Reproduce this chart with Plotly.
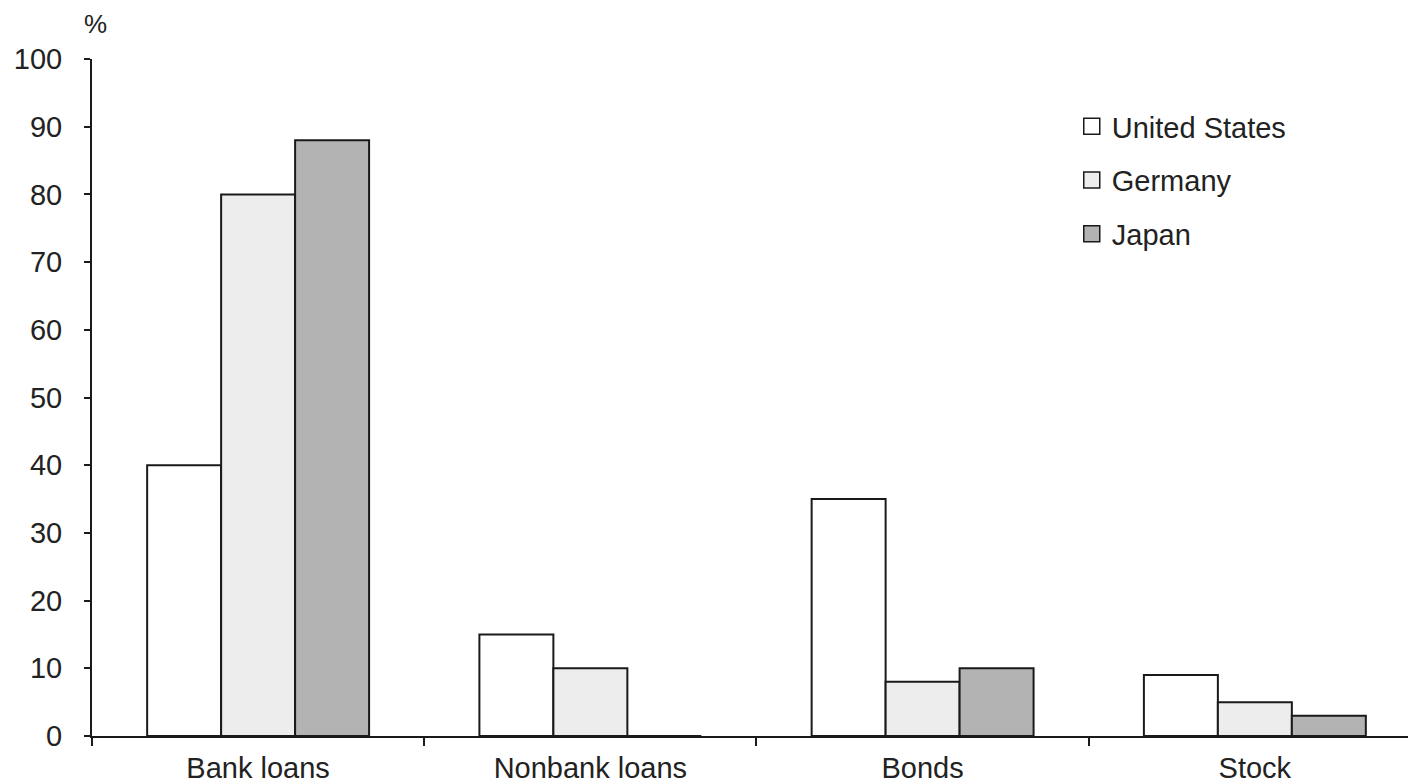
import plotly.graph_objects as go

categories = ["Bank loans", "Nonbank loans", "Bonds", "Stock"]
us_values = [40, 15, 35, 9]
germany_values = [80, 10, 8, 5]
japan_values = [88, 0, 10, 3]
series_names = ["United States", "Germany", "Japan"]
series_colors = ["#ffffff", "#ededed", "#b3b3b3"]
y_ticks = [0, 10, 20, 30, 40, 50, 60, 70, 80, 90, 100]

x_pos = list(range(len(categories)))
FONT = "Liberation Sans, Arial, sans-serif"
TXT = "#222222"

fig = go.Figure()
for name, vals, col in zip(series_names, [us_values, germany_values, japan_values], series_colors):
    fig.add_trace(go.Bar(
        x=x_pos, y=vals, name=name, showlegend=False,
        marker=dict(color=col, line=dict(color="#1a1a1a", width=2)),
    ))
for i, (name, col) in enumerate(zip(series_names, series_colors)):
    fig.add_trace(go.Scatter(
        x=[None], y=[None], mode="markers", name=name, legendgroup=f"g{i}",
        marker=dict(symbol="square", size=17, color=col, line=dict(color="#1a1a1a", width=1.5)),
    ))

fig.update_layout(
    width=1416, height=784,
    margin=dict(l=84, r=8, t=51, b=56, autoexpand=False),
    paper_bgcolor="white", plot_bgcolor="white",
    barmode="group", bargap=0.332, bargroupgap=0,
    font=dict(family=FONT, size=29, color=TXT),
    showlegend=True,
    legend=dict(x=0.740, y=0.938, xanchor="left", yanchor="top",
                font=dict(family=FONT, size=29, color=TXT),
                tracegroupgap=13, bgcolor="rgba(0,0,0,0)"),
)
fig.update_xaxes(
    range=[-0.5, 3.485], tickmode="array", tickvals=x_pos, ticktext=categories,
    ticks="", showline=True, linecolor="#1a1a1a", linewidth=2,
    showgrid=False, zeroline=False, ticklabelstandoff=5,
    minor=dict(ticks="outside", tickmode="linear", tick0=-0.5, dtick=1,
               ticklen=8, tickwidth=2, tickcolor="#1a1a1a", showgrid=False),
    tickfont=dict(family=FONT, size=29, color=TXT),
)
fig.update_yaxes(
    range=[0, 100], tickmode="array", tickvals=y_ticks,
    ticks="outside", ticklen=6, tickwidth=2, tickcolor="#1a1a1a",
    showline=True, linecolor="#1a1a1a", linewidth=2,
    showgrid=False, zeroline=False, ticklabelstandoff=16,
    tickfont=dict(family=FONT, size=29, color=TXT),
)
fig.add_annotation(text="%", xref="paper", yref="paper", x=0.003, y=1.052,
                   xanchor="center", yanchor="middle", showarrow=False,
                   font=dict(family=FONT, size=26, color=TXT))

fig.write_html("out.html")
